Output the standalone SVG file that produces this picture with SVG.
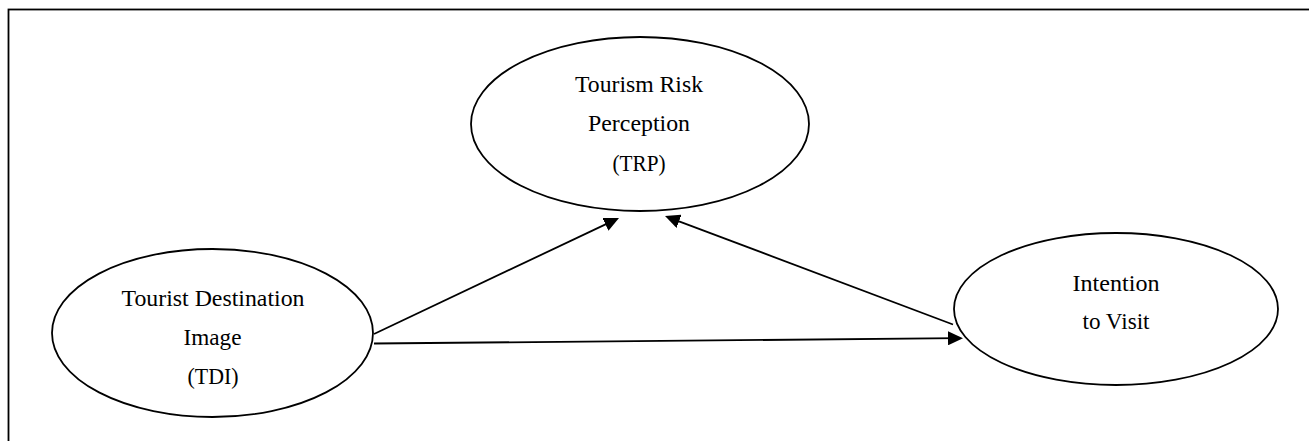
<svg xmlns="http://www.w3.org/2000/svg" width="1309" height="441" viewBox="0 0 1309 441">
  <style>
    .node ellipse { fill: #ffffff; stroke: #000000; stroke-width: 1.8; }
    .node text { font-family: "Liberation Serif", "Times New Roman", serif; font-size: 23px; fill: #000000; text-anchor: middle; }
    .conn line { stroke: #000000; stroke-width: 1.8; fill: none; marker-end: url(#arrow); }
  </style>
  <defs>
    <marker id="arrow" markerUnits="userSpaceOnUse" markerWidth="15" markerHeight="14" refX="10" refY="7" orient="auto">
      <path d="M0,0 L15,7 L0,14 z" fill="#000000"/>
    </marker>
  </defs>
  <rect x="8.5" y="9.5" width="1320" height="450" fill="#ffffff" stroke="#000000" stroke-width="1.8"/>
  <g id="connectors" class="conn">
    <line x1="374" y1="334" x2="614.5" y2="220.1"/>
    <line x1="953" y1="324.5" x2="669.7" y2="217.8"/>
    <line x1="374" y1="343.5" x2="958" y2="338.2"/>
  </g>
  <g id="trp" class="node">
    <ellipse cx="640" cy="124" rx="169" ry="87"/>
    <text x="639" y="91.7" textLength="128" lengthAdjust="spacingAndGlyphs">Tourism Risk</text>
    <text x="639" y="130.7" textLength="102" lengthAdjust="spacingAndGlyphs">Perception</text>
    <text x="639" y="171" textLength="53" lengthAdjust="spacingAndGlyphs">(TRP)</text>
  </g>
  <g id="tdi" class="node">
    <ellipse cx="212.5" cy="333" rx="160.5" ry="84"/>
    <text x="213" y="306" textLength="183" lengthAdjust="spacingAndGlyphs">Tourist Destination</text>
    <text x="212.5" y="345" textLength="58" lengthAdjust="spacingAndGlyphs">Image</text>
    <text x="213" y="384" textLength="51" lengthAdjust="spacingAndGlyphs">(TDI)</text>
  </g>
  <g id="itv" class="node">
    <ellipse cx="1116" cy="309" rx="162" ry="76"/>
    <text x="1116" y="290.7" textLength="87" lengthAdjust="spacingAndGlyphs">Intention</text>
    <text x="1116" y="329.3" textLength="67" lengthAdjust="spacingAndGlyphs">to Visit</text>
  </g>
</svg>
